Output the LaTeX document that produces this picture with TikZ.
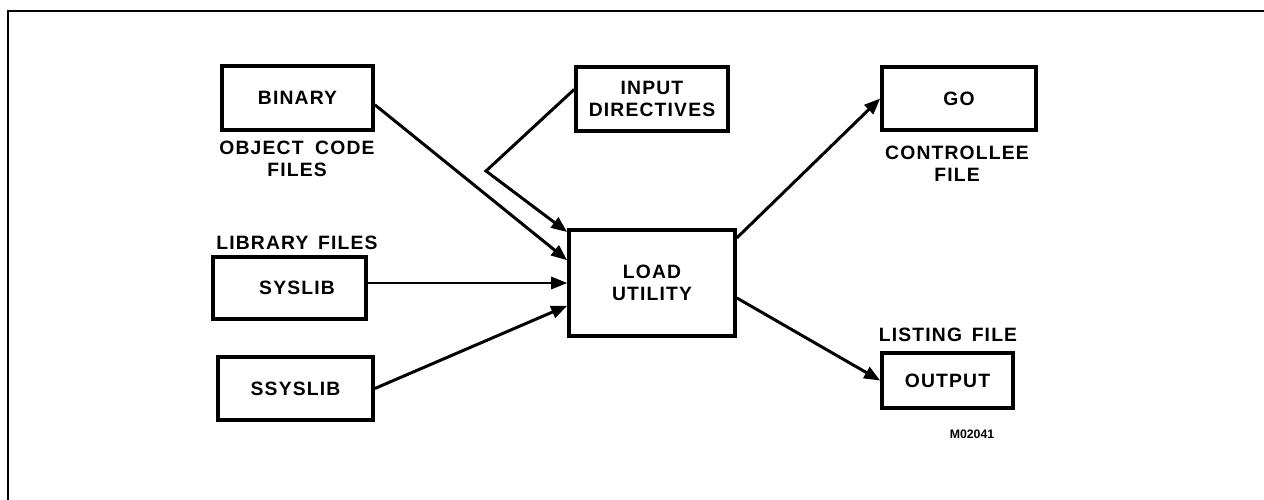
\documentclass[tikz,border=0pt]{standalone}
\usepackage{fontspec}
\setmainfont{Liberation Sans}
\newfontfamily\boxfont{Liberation Sans}[LetterSpace=6]
\usepackage{tikz}
\usetikzlibrary{positioning, fit, arrows.meta}

\begin{document}
\begin{tikzpicture}[
    x=0.02cm, y=-0.02cm,
    blk/.style={rectangle, draw, line width=2.1pt, inner sep=0pt, align=center,
                font=\boxfont\bfseries\fontsize{11}{12.5}\selectfont},
    lbl/.style={align=center, inner sep=0pt, font=\boxfont\bfseries\fontsize{11}{12.5}\selectfont},
    flow/.style={->, line width=1.7pt},
    >={Triangle[length=3.2mm, width=2.5mm]}
    ]

        \useasboundingbox (0,0) rectangle (1264,500);
        \draw[line width=1.4pt] (8,500) -- (8,11) -- (1264,11);

        % sources
        \node[blk, minimum width=3.02cm, minimum height=1.28cm] (bin) at (297.5, 98) {BINARY};
        \node[blk, minimum width=3.06cm, minimum height=1.24cm] (sys) at (289.5, 288) {\hspace{0.3cm}SYSLIB};
        \node[blk, minimum width=3.10cm, minimum height=1.26cm] (ssys) at (295.5, 388.5) {SSYSLIB};
        \node[blk, minimum width=3.04cm, minimum height=1.28cm] (inp) at (652, 99) {INPUT\\DIRECTIVES};

        \node[lbl] (objcode) at (297, 159) {OBJECT\hspace{0.6em}CODE\\FILES};
        \node[lbl] (libfiles) at (297, 243) {LIBRARY\hspace{0.5em}FILES};

        % loader
        \node[blk, minimum width=3.32cm, minimum height=2.12cm] (load) at (652, 283) {LOAD\\UTILITY};

        % results
        \node[blk, minimum width=3.08cm, minimum height=1.26cm] (go) at (959, 98.5) {GO};
        \node[blk, minimum width=2.62cm, minimum height=1.10cm] (out) at (947.5, 380.5) {OUTPUT};

        \node[lbl] (ctrl) at (957, 164) {CONTROLLEE\\FILE};
        \node[lbl] (listing) at (948, 335) {LISTING\hspace{0.5em}FILE};
        \node[font=\bfseries\fontsize{7}{8}\selectfont] (fig) at (972, 434) {M02041};

        \coordinate (bend) at (486, 171);

        \draw[flow] (bin.355) to (load.165);
        \draw[flow] (inp.173) -- (bend) -- (load.149);
        \draw[->, line width=0.9pt] (load.west -| sys.east) to (load.west);
        \draw[flow] (ssys.east) to (load.195);
        \draw[flow] (load.28) to (go.west);
        \draw[flow] (load.350) to (out.west);
\end{tikzpicture}
\end{document}
